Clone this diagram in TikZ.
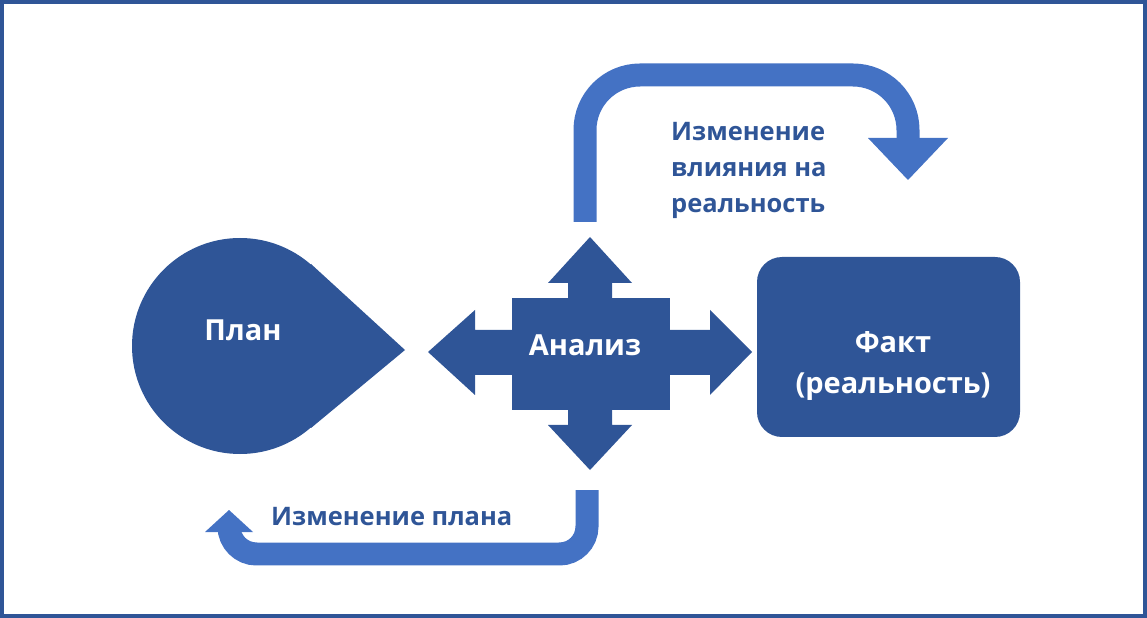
\documentclass[tikz,border=0pt]{standalone}
\usepackage{fontspec}
\setmainfont{Open Sans}
\begin{document}
\begin{tikzpicture}[x=0.02cm,y=-0.02cm,
  band/.style={draw=lightblue,line width=0.46cm,rounded corners=1.1cm},
  wt/.style={text=white,font=\bfseries\fontsize{16.5}{23}\selectfont,align=center},
  bt/.style={text=darkblue,font=\bfseries\fontsize{14.5}{20.5}\selectfont,align=left}]
\definecolor{darkblue}{HTML}{2F5597}
\definecolor{lightblue}{HTML}{4472C4}
\useasboundingbox (0,0) rectangle (1147,618);
\draw[darkblue,line width=0.08cm] (2,2) rectangle (1145,616);
% Plan teardrop
\fill[darkblue] (240,346) circle (108);
\fill[darkblue] (405,350) -- (311,264) -- (240,346) -- (311,428) -- cycle;
\node[wt] (plan) at (243,330) {План};
% Analysis four-way arrow
\fill[darkblue] (512,298) rectangle (670,410);
\fill[darkblue] (512,330) -- (475,330) -- (475,310) -- (428,352) -- (475,395) -- (475,375) -- (512,375) -- cycle;
\fill[darkblue] (670,330) -- (710,330) -- (710,310) -- (752,352) -- (710,395) -- (710,375) -- (670,375) -- cycle;
\fill[darkblue] (568,298) -- (568,283) -- (548,283) -- (590,237) -- (632,283) -- (612,283) -- (612,298) -- cycle;
\fill[darkblue] (568,410) -- (568,425) -- (548,425) -- (590,470) -- (632,425) -- (612,425) -- (612,410) -- cycle;
\node[wt] (an) at (585,345) {Анализ};
% Fact
\fill[darkblue,rounded corners=0.5cm] (757,257) rectangle (1020,437);
\node[wt] (fact) at (893,366) {Факт\\(реальность)};
% upper arrow
\draw[band] (585,222) -- (585,75) -- (908,75) -- (908,140);
\fill[lightblue] (868,138) -- (948,138) -- (908,180) -- cycle;
% lower arrow
\draw[band,rounded corners=0.55cm] (587,490) -- (587,554) -- (229,554) -- (229,530);
\fill[lightblue] (205,532) -- (253,532) -- (229,510) -- cycle;
\node[bt,anchor=north west] (t1) at (665,116) {Изменение\\влияния на\\реальность};
\node[bt,anchor=west] (t2) at (265,517) {Изменение плана};
\end{tikzpicture}
\end{document}
